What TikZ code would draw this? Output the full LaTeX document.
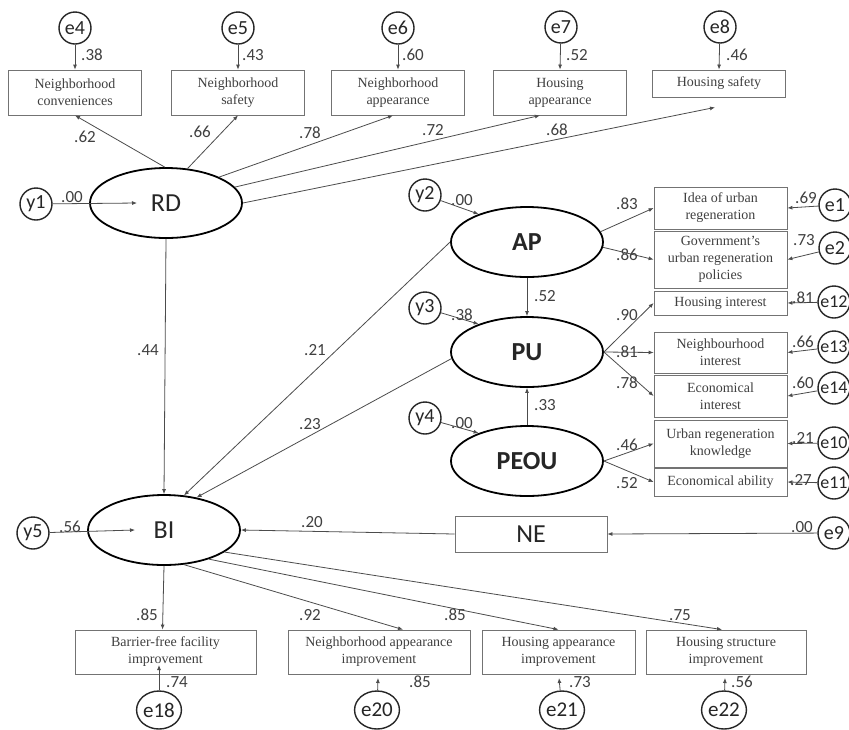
\documentclass[tikz,border=0pt]{standalone}
\usepackage{fontspec}
\setmainfont{Liberation Serif}
\newfontfamily\calfnt{Carlito}
\usetikzlibrary{arrows.meta,shapes.geometric}
\tikzset{
 lat/.style={ellipse, draw=black, line width=1.8pt, minimum width=152pt, minimum height=70pt, inner sep=0pt, font=\calfnt\fontsize{26}{26}\selectfont, text=black!85},
 latb/.style={lat, font=\calfnt\bfseries\fontsize{26}{26}\selectfont},
 err/.style={circle, draw=black!85, line width=1.4pt, minimum size=32pt, inner sep=0pt, font=\calfnt\fontsize{20}{20}\selectfont, text=black!85},
 errr/.style={err, font=\calfnt\fontsize{18}{18}\selectfont},
 errb/.style={ellipse, draw=black!85, line width=1.4pt, minimum width=34pt, minimum height=38pt, inner sep=0pt, font=\calfnt\fontsize{21}{21}\selectfont, text=black!85},
 obs/.style={rectangle, draw=black!55, line width=0.8pt, inner sep=0pt, align=center, font=\fontsize{14}{17}\selectfont, text=black!75},
 arr/.style={draw=black!70, line width=0.8pt, -{Latex[length=5pt,width=4pt]}},
 lab/.style={font=\calfnt\fontsize{17}{17}\selectfont, text=black!75, inner sep=0pt},
}
\begin{document}
\begin{tikzpicture}[x=1pt,y=-1pt]
\fill[white] (0,0) rectangle (849,729);
\useasboundingbox (0,0) rectangle (849,729);

% ---------- top indicators of RD ----------
\node[err] (e4) at (75,28) {e4};
\node[err] (e5) at (238,28) {e5};
\node[err] (e6) at (398,28) {e6};
\node[err] (e7) at (561,27) {e7};
\node[err] (e8) at (720,27) {e8};

\node[obs, minimum width=133pt, minimum height=45pt] (b1) at (75,92.5) {Neighborhood\\conveniences};
\node[obs, minimum width=133pt, minimum height=45pt] (b2) at (238,92.5) {Neighborhood\\safety};
\node[obs, minimum width=133pt, minimum height=45pt] (b3) at (398,92.5) {Neighborhood\\appearance};
\node[obs, minimum width=133pt, minimum height=45pt] (b4) at (560,92.5) {Housing\\appearance};
\node[obs, minimum width=133pt, minimum height=27pt] (b5) at (719,83.5) {Housing safety};

\draw[arr] (e4) -- (b1.north);
\draw[arr] (e5) -- (b2.north);
\draw[arr] (e6) -- (b3.north);
\draw[arr] (e7) -- (b4.north);
\draw[arr] (e8) -- (b5.north);
\node[lab] (l38) at (92,55) {.38};
\node[lab] (l43) at (253,55) {.43};
\node[lab] (l60t) at (413,55) {.60};
\node[lab] (l52t) at (577,55) {.52};
\node[lab] (l46t) at (737,55) {.46};

% ---------- RD ----------
\node[lat] (RD) at (166,203) {RD};
\node[err] (y1) at (36,204) {y1};
\draw[arr] (y1) -- ([xshift=-29pt]RD.center);
\node[lab] (l00a) at (72,197) {.00};

\draw[arr] (RD.92) -- (b1.south);
\draw[arr] (RD.58) -- (b2.south);
\draw[arr] (RD.26) -- ([xshift=-5pt]b3.south);
\draw[arr] (RD.13) -- ([xshift=-20pt]b4.south);
\draw[arr] (RD.0) -- ([xshift=-4pt,yshift=-10pt]b5.south);
\node[lab] (l62) at (85,137) {.62};
\node[lab] (l66) at (200,132) {.66};
\node[lab] (l78) at (310,133) {.78};
\node[lab] (l72) at (433,130) {.72};
\node[lab] (l68) at (557,130) {.68};

% ---------- AP, PU, PEOU ----------
\node[latb] (AP) at (527,242) {AP};
\node[latb] (PU) at (527,352) {PU};
\node[latb] (PEOU) at (527,461) {PEOU};
\node[err] (y2) at (425,195) {y2};
\node[err] (y3) at (425,308) {y3};
\node[err] (y4) at (425,418) {y4};
\draw[arr] (y2) -- (AP.150);
\draw[arr] (y3) -- (PU.150);
\draw[arr] (y4) -- (PEOU.150);
\node[lab] (l00b) at (462,200) {.00};
\node[lab] (l38b) at (462,315) {.38};
\node[lab] (l00c) at (462,423) {.00};

\draw[arr] (AP.south) -- (PU.north);
\draw[arr] (PEOU.north) -- (PU.south);
\node[lab] (l52m) at (545,296) {.52};
\node[lab] (l33) at (545,405) {.33};

% right indicators
\node[obs, minimum width=133pt, minimum height=42pt] (r1) at (720.5,208) {Idea of urban\\regeneration};
\node[obs, minimum width=133pt, minimum height=57pt] (r2) at (720.5,259.5) {Government's\\urban regeneration\\policies};
\node[obs, minimum width=133pt, minimum height=24pt] (r3) at (720.5,303) {Housing interest};
\node[obs, minimum width=133pt, minimum height=41pt] (r4) at (720.5,352.5) {Neighbourhood\\interest};
\node[obs, minimum width=133pt, minimum height=42pt] (r5) at (720.5,396) {Economical\\interest};
\node[obs, minimum width=133pt, minimum height=47pt] (r6) at (720.5,443.5) {Urban regeneration\\knowledge};
\node[obs, minimum width=133pt, minimum height=28pt] (r7) at (720.5,482) {Economical ability};

\draw[arr] (AP.8) -- (r1.west);
\draw[arr] (AP.-4) -- (r2.west);
\draw[arr] (PU.east) -- (r3.west);
\draw[arr] (PU.east) -- (r4.west);
\draw[arr] (PU.east) -- (r5.west);
\draw[arr] (PEOU.east) -- (r6.west);
\draw[arr] (PEOU.east) -- (r7.west);
\node[lab] (l83) at (627,204) {.83};
\node[lab] (l86) at (627,255) {.86};
\node[lab] (l90) at (627,315) {.90};
\node[lab] (l81) at (627,352) {.81};
\node[lab] (l78b) at (627,383) {.78};
\node[lab] (l46) at (627,445) {.46};
\node[lab] (l52) at (627,483) {.52};

\node[err] (e1) at (835,205) {e1};
\node[err] (e2) at (835,248) {e2};
\node[errr] (e12) at (834,302) {e12};
\node[errr] (e13) at (834,347) {e13};
\node[errr] (e14) at (834,388) {e14};
\node[errr] (e10) at (834,443) {e10};
\node[errr] (e11) at (834,483) {e11};
\draw[arr] (e1) -- (r1.east);
\draw[arr] (e2) -- (r2.east);
\draw[arr] (e12) -- (r3.east);
\draw[arr] (e13) -- (r4.east);
\draw[arr] (e14) -- (r5.east);
\draw[arr] (e10) -- (r6.east);
\draw[arr] (e11) -- (r7.east);
\node[lab] (l69) at (806,198) {.69};
\node[lab] (l73) at (804,240) {.73};
\node[lab] (l81r) at (803,298) {.81};
\node[lab] (l66r) at (803,342) {.66};
\node[lab] (l60r) at (803,383) {.60};
\node[lab] (l21r) at (803,438) {.21};
\node[lab] (l27r) at (801,480) {.27};

% ---------- BI ----------
\node[lat] (BI) at (164,530) {BI};
\node[err] (y5) at (33,533) {y5};
\draw[arr] (y5) -- ([xshift=-29pt]BI.center);
\node[lab] (l56) at (70,527) {.56};

\draw[arr] (RD.south) -- (BI.north);
\node[lab] (l44) at (148,350) {.44};
\draw[arr] (AP.west) -- (BI.60);
\draw[arr] (PU.185) -- (BI.45);
\node[lab] (l21) at (315,350) {.21};
\node[lab] (l23) at (310,424) {.23};

\node[obs, minimum width=152pt, minimum height=36pt, font=\calfnt\fontsize{26}{26}\selectfont, text=black!85] (NE) at (531,534) {NE};
\node[err] (e9) at (834,533) {e9};
\draw[arr] (e9) -- (NE.east);
\draw[arr] (NE.west) -- (BI.east);
\node[lab] (l00e) at (802,527) {.00};
\node[lab] (l20) at (312,522) {.20};

% ---------- bottom indicators ----------
\node[obs, minimum width=181pt, minimum height=44pt] (d1) at (165.5,652) {Barrier-free facility\\improvement};
\node[obs, minimum width=182pt, minimum height=44pt] (d2) at (379,652) {Neighborhood appearance\\improvement};
\node[obs, minimum width=153pt, minimum height=44pt] (d3) at (558.5,652) {Housing appearance\\improvement};
\node[obs, minimum width=160pt, minimum height=44pt] (d4) at (726,652) {Housing structure\\improvement};

\draw[arr] (BI.south) -- ([xshift=-3pt]d1.north);
\draw[arr] (BI.-60) -- ([xshift=24pt]d2.north);
\draw[arr] (BI.-33) -- (d3.north);
\draw[arr] (BI.-20) -- ([xshift=-4pt]d4.north);
\node[lab] (l85a) at (147,615) {.85};
\node[lab] (l92) at (310,615) {.92};
\node[lab] (l85b) at (455,615) {.85};
\node[lab] (l75) at (680,615) {.75};

\node[errb] (e18) at (159,710) {e18};
\node[errb] (e20) at (377,710) {e20};
\node[errb] (e21) at (562,710) {e21};
\node[errb] (e22) at (724,710) {e22};
\coordinate (t18) at (159,665);
\coordinate (t20) at (378,678);
\coordinate (t21) at (559,678);
\coordinate (t22) at (725,678);
\draw[arr] (e18) -- (t18);
\draw[arr] (e20) -- (t20);
\draw[arr] (e21) -- (t21);
\draw[arr] (e22) -- (t22);
\node[lab] (l74) at (177,682) {.74};
\node[lab] (l85c) at (420,682) {.85};
\node[lab] (l73b) at (580,682) {.73};
\node[lab] (l56b) at (742,682) {.56};
\end{tikzpicture}
\end{document}
